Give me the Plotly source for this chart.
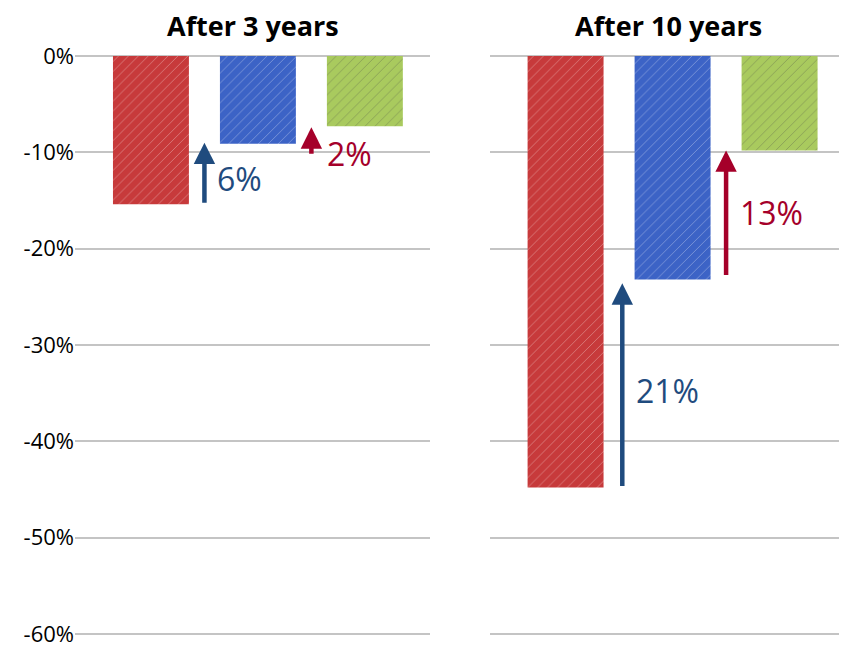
import plotly.graph_objects as go
from plotly.subplots import make_subplots

panels = ["After 3 years", "After 10 years"]
series_colors = ["#C73A3B", "#3C63C6", "#A9CA5E"]
values_3y = [-15.4, -9.1, -7.3]
values_10y = [-44.8, -23.2, -9.8]
tick_vals = [0, -10, -20, -30, -40, -50, -60]
tick_text = ["0%", "-10%", "-20%", "-30%", "-40%", "-50%", "-60%"]

# arrows: panel, x position, start value, end value, label, label position, color
arrow_panel = [1, 1, 2, 2]
arrow_x = [0.5, 1.5, 0.53, 1.5]
arrow_start = [-15.4, -10.3, -44.8, -22.9]
arrow_end = [-9.0, -7.4, -23.6, -9.8]
arrow_labels = ["6%", "2%", "21%", "13%"]
label_x = [0.6, 1.63, 0.64, 1.61]
label_y = [-12.7, -10.1, -34.7, -16.3]
arrow_colors = ["#1F4B7E", "#A5002A", "#1F4B7E", "#A5002A"]

fig = make_subplots(rows=1, cols=2, horizontal_spacing=0.0)

for i, vals in enumerate([values_3y, values_10y]):
    fig.add_trace(go.Bar(
        x=[0, 1, 2], y=vals, width=0.71,
        marker=dict(
            color=series_colors,
            line=dict(width=0),
            pattern=dict(shape="/", fgcolor="#ffffff", fgopacity=0.35,
                         size=7, solidity=0.12, fillmode="overlay"),
        ),
        showlegend=False, hoverinfo="skip",
    ), row=1, col=i + 1)

font_family = "Open Sans, Lato, sans-serif"

for p, x, s, e, lab, lx, ly, c in zip(arrow_panel, arrow_x, arrow_start, arrow_end,
                                       arrow_labels, label_x, label_y, arrow_colors):
    xr = "x" if p == 1 else "x2"
    yr = "y" if p == 1 else "y2"
    fig.add_annotation(
        x=x, y=e, ax=x, ay=s, xref=xr, yref=yr, axref=xr, ayref=yr,
        showarrow=True, arrowhead=2, arrowsize=0.95, arrowwidth=4.5,
        arrowcolor=c, text="",
    )
    fig.add_annotation(
        x=lx, y=ly, xref=xr, yref=yr, text=lab, showarrow=False, xanchor="left",
        font=dict(family=font_family, size=32, color=c),
    )

for i, t in enumerate(panels):
    fig.add_annotation(
        text="<b>" + t + "</b>", x=0.5, y=1.0, xref=("x domain" if i == 0 else "x2 domain"),
        yref="paper", yanchor="bottom", yshift=5, borderpad=0, showarrow=False,
        font=dict(family=font_family, size=27, color="#000000"),
    )

fig.update_xaxes(visible=False, showgrid=False, zeroline=False)
fig.update_layout(
    xaxis=dict(domain=[0, 0.46], range=[-0.71, 2.61]),
    xaxis2=dict(domain=[0.5376, 1.0], range=[-0.706, 2.63]),
)
fig.update_yaxes(range=[-60.42, 0.62], tickvals=tick_vals, showgrid=True,
                 gridcolor="#C4C4C4", gridwidth=2, zeroline=False, showline=False,
                 ticks="")
fig.update_layout(
    yaxis=dict(ticktext=tick_text, tickfont=dict(family=font_family, size=22, color="#000000")),
    yaxis2=dict(showticklabels=False, matches="y"),
    width=839, height=640,
    margin=dict(l=67, r=0, t=42, b=10),
    plot_bgcolor="white", paper_bgcolor="white",
)

fig.write_html("out.html")
